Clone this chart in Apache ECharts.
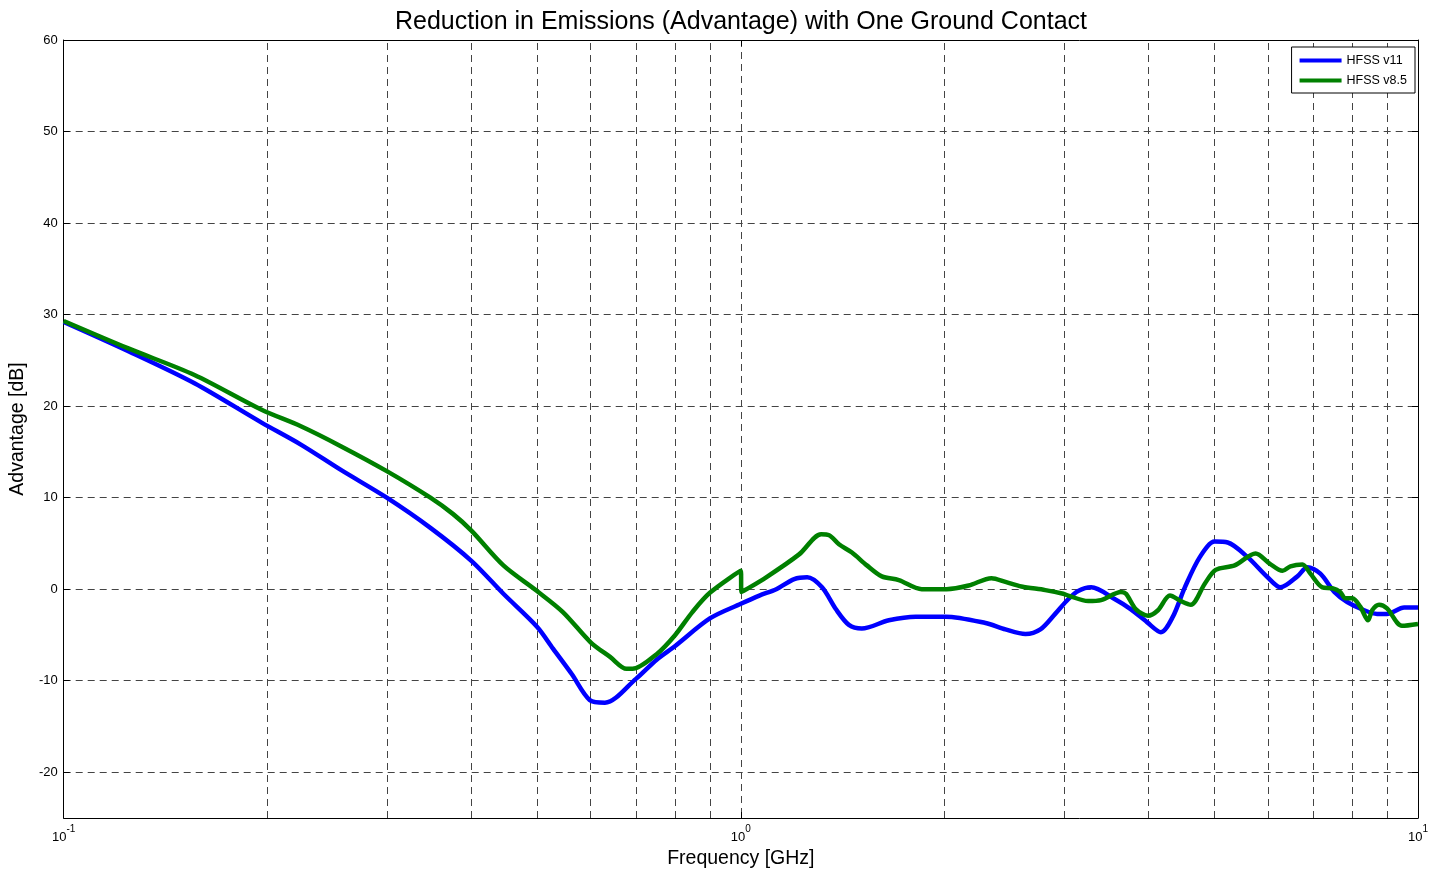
<!DOCTYPE html>
<html>
<head>
<meta charset="utf-8">
<title>Reduction in Emissions</title>
<script src="https://cdn.jsdelivr.net/npm/echarts@6/dist/echarts.min.js"></script>
<style>
  html, body { margin: 0; padding: 0; background: #fff; }
  #chart { width: 1431px; height: 874px; }
</style>
</head>
<body>
<div id="chart"></div>
<script>
// HFSS v11 (blue)
var v11Freq = [0.1, 0.1246, 0.156, 0.196, 0.224, 0.257, 0.30, 0.348, 0.40, 0.446, 0.50, 0.528, 0.563, 0.598, 0.63, 0.70, 0.751, 0.80, 0.90, 1.0,
    1.065, 1.128, 1.199, 1.253, 1.318, 1.382, 1.444, 1.509, 1.654, 1.813, 2.006, 2.298, 2.459, 2.632, 2.769, 2.912, 3.044, 3.149, 3.291,
    3.569, 3.768, 3.979, 4.173, 4.346, 4.526, 4.762, 5.009, 5.235, 5.603, 5.997, 6.266, 6.636, 6.865, 7.175, 7.524, 7.861, 8.329, 8.70, 9.0, 9.54, 10];
var v11Adv = [29.2, 26.0, 22.5, 18.2, 15.8, 13.0, 10.0, 6.7, 3.1, -0.5, -4.1, -6.5, -9.3, -12.1, -12.4, -9.8, -7.7, -6.2, -3.2, -1.6,
    -0.7, 0.0, 1.1, 1.3, 0.2, -2.2, -3.9, -4.3, -3.4, -3.0, -3.0, -3.7, -4.4, -4.9, -4.4, -2.7, -1.1, -0.2, 0.2,
    -1.1, -2.2, -3.6, -4.7, -3.0, 0.2, 3.5, 5.2, 5.1, 3.5, 1.3, 0.2, 1.4, 2.4, 1.7, -0.3, -1.4, -2.3, -2.7, -2.7, -2.0, -2.0];

// HFSS v8.5 (green)
var v85Freq = [0.1, 0.1246, 0.156, 0.196, 0.224, 0.257, 0.30, 0.348, 0.376, 0.40, 0.446, 0.50, 0.546, 0.60, 0.641, 0.678, 0.692, 0.751, 0.80, 0.848, 0.90, 1.0,
    1.002, 1.09, 1.219, 1.314, 1.350, 1.396, 1.459, 1.535, 1.615, 1.711, 1.850, 2.013, 2.170, 2.345, 2.459, 2.596, 2.816, 2.993, 3.044, 3.258,
    3.404, 3.642, 3.705, 3.833, 3.993, 4.131, 4.302, 4.465, 4.619, 4.843, 5.026, 5.361, 5.757, 6.037, 6.308, 6.481, 6.750, 6.936, 7.224, 7.473,
    7.677, 7.808, 8.0, 8.216, 8.44, 8.557, 8.76, 9.0, 9.47, 10];
var v85Adv = [29.3, 26.3, 23.4, 19.6, 17.8, 15.6, 12.9, 10.0, 8.2, 6.4, 2.6, -0.2, -2.5, -5.8, -7.4, -8.7, -8.7, -7.1, -5.0, -2.5, -0.4, 2.0,
    -0.3, 1.3, 3.8, 6.0, 5.9, 4.9, 4.0, 2.6, 1.4, 1.0, 0.0, 0.0, 0.4, 1.2, 0.8, 0.3, -0.1, -0.5, -0.7, -1.3,
    -1.2, -0.3, -0.5, -2.2, -2.9, -2.3, -0.7, -1.3, -1.7, 0.6, 2.1, 2.6, 3.9, 2.8, 2.0, 2.5, 2.7, 1.7, 0.2, 0.1,
    -0.3, -1.0, -1.0, -1.9, -3.4, -2.3, -1.7, -2.1, -4.0, -3.8];

// minor decade grid lines
var minorFreqs = [0.2, 0.3, 0.4, 0.5, 0.6, 0.7, 0.8, 0.9, 2, 3, 4, 5, 6, 7, 8, 9];

function zip(xs, ys) {
    var out = [];
    for (var i = 0; i < xs.length; i++) out.push([xs[i], ys[i]]);
    return out;
}

var gridDash = { color: '#444', width: 1, type: [7, 5] };
var font = 'Arial, "Liberation Sans", sans-serif';

var chart = echarts.init(document.getElementById('chart'), null, { renderer: 'canvas' });

chart.setOption({
    animation: false,
    backgroundColor: '#fff',
    title: {
        text: 'Reduction in Emissions (Advantage) with One Ground Contact',
        left: 736, top: 5, textAlign: 'center',
        textStyle: { fontFamily: font, fontSize: 25, fontWeight: 'normal', color: '#000' }
    },
    legend: {
        right: 16, top: 47,
        z: 20,
        orient: 'vertical',
        backgroundColor: '#fff',
        borderColor: '#000', borderWidth: 1,
        padding: [7, 8, 6, 8],
        itemGap: 7,
        itemWidth: 42, itemHeight: 4,
        icon: 'rect',
        textStyle: { fontFamily: font, fontSize: 12.5, color: '#000' },
        data: ['HFSS v11', 'HFSS v8.5']
    },
    grid: { left: 62, right: 9, top: 40, bottom: 51, containLabel: false },
    xAxis: [{
        type: 'log', logBase: 10, min: 0.1, max: 10,
        name: 'Frequency [GHz]', nameLocation: 'middle', nameGap: 31,
        nameTextStyle: { fontFamily: font, fontSize: 19.5, color: '#000' },
        axisLine: { show: true, onZero: false, lineStyle: { color: '#000', width: 1 } },
        axisTick: { show: true, inside: true, length: 6, lineStyle: { color: '#000' } },
        axisLabel: {
            margin: 6,
            formatter: function (v) {
                var e = Math.round(Math.log10(v));
                return '{b|10}{s|' + e + '}';
            },
            rich: {
                b: { fontFamily: font, fontSize: 13, color: '#000', verticalAlign: 'bottom', lineHeight: 20 },
                s: { fontFamily: font, fontSize: 10, color: '#000', verticalAlign: 'top', lineHeight: 20 }
            }
        },
        splitLine: { show: true, lineStyle: gridDash }
    }, {
        type: 'log', logBase: 10, min: 0.1, max: 10, position: 'top',
        axisLine: { show: true, onZero: false, lineStyle: { color: '#000', width: 1 } },
        axisTick: { show: true, inside: true, length: 6, lineStyle: { color: '#000' } },
        axisLabel: { show: false },
        splitLine: { show: false }
    }],
    yAxis: [{
        type: 'value', min: -25, max: 60, splitNumber: 8,
        name: 'Advantage [dB]', nameLocation: 'middle', nameGap: 32, nameRotate: 90,
        nameTextStyle: { fontFamily: font, fontSize: 19.5, color: '#000' },
        axisLine: { show: true, onZero: false, lineStyle: { color: '#000', width: 1 } },
        axisTick: { show: true, inside: true, length: 6, lineStyle: { color: '#000' } },
        axisLabel: { showMinLabel: false, margin: 6, fontFamily: font, fontSize: 13, color: '#000' },
        splitLine: { show: true, lineStyle: gridDash }
    }, {
        type: 'value', min: -25, max: 60, splitNumber: 8, position: 'right',
        axisLine: { show: true, onZero: false, lineStyle: { color: '#000', width: 1 } },
        axisTick: { show: true, inside: true, length: 6, lineStyle: { color: '#000' } },
        axisLabel: { show: false },
        splitLine: { show: false }
    }],
    series: [{
        name: 'grid-minor',
        type: 'line',
        data: [],
        z: 1,
        silent: true,
        markLine: {
            silent: true,
            symbol: 'none',
            z: 1,
            label: { show: false },
            lineStyle: gridDash,
            data: minorFreqs.map(function (f) { return { xAxis: f }; })
        }
    }, {
        name: 'HFSS v11',
        type: 'line',
        data: zip(v11Freq, v11Adv),
        showSymbol: false,
        symbol: 'none',
        smooth: 0.3,
        z: 3,
        color: '#0000ff',
        lineStyle: { color: '#0000ff', width: 4.5 }
    }, {
        name: 'HFSS v8.5',
        type: 'line',
        data: zip(v85Freq, v85Adv),
        showSymbol: false,
        symbol: 'none',
        smooth: 0.3,
        z: 4,
        color: '#008000',
        lineStyle: { color: '#008000', width: 4.5 }
    }]
});

window.addEventListener('resize', function () {
    if (chart) chart.resize();
});
</script>
</body>
</html>
